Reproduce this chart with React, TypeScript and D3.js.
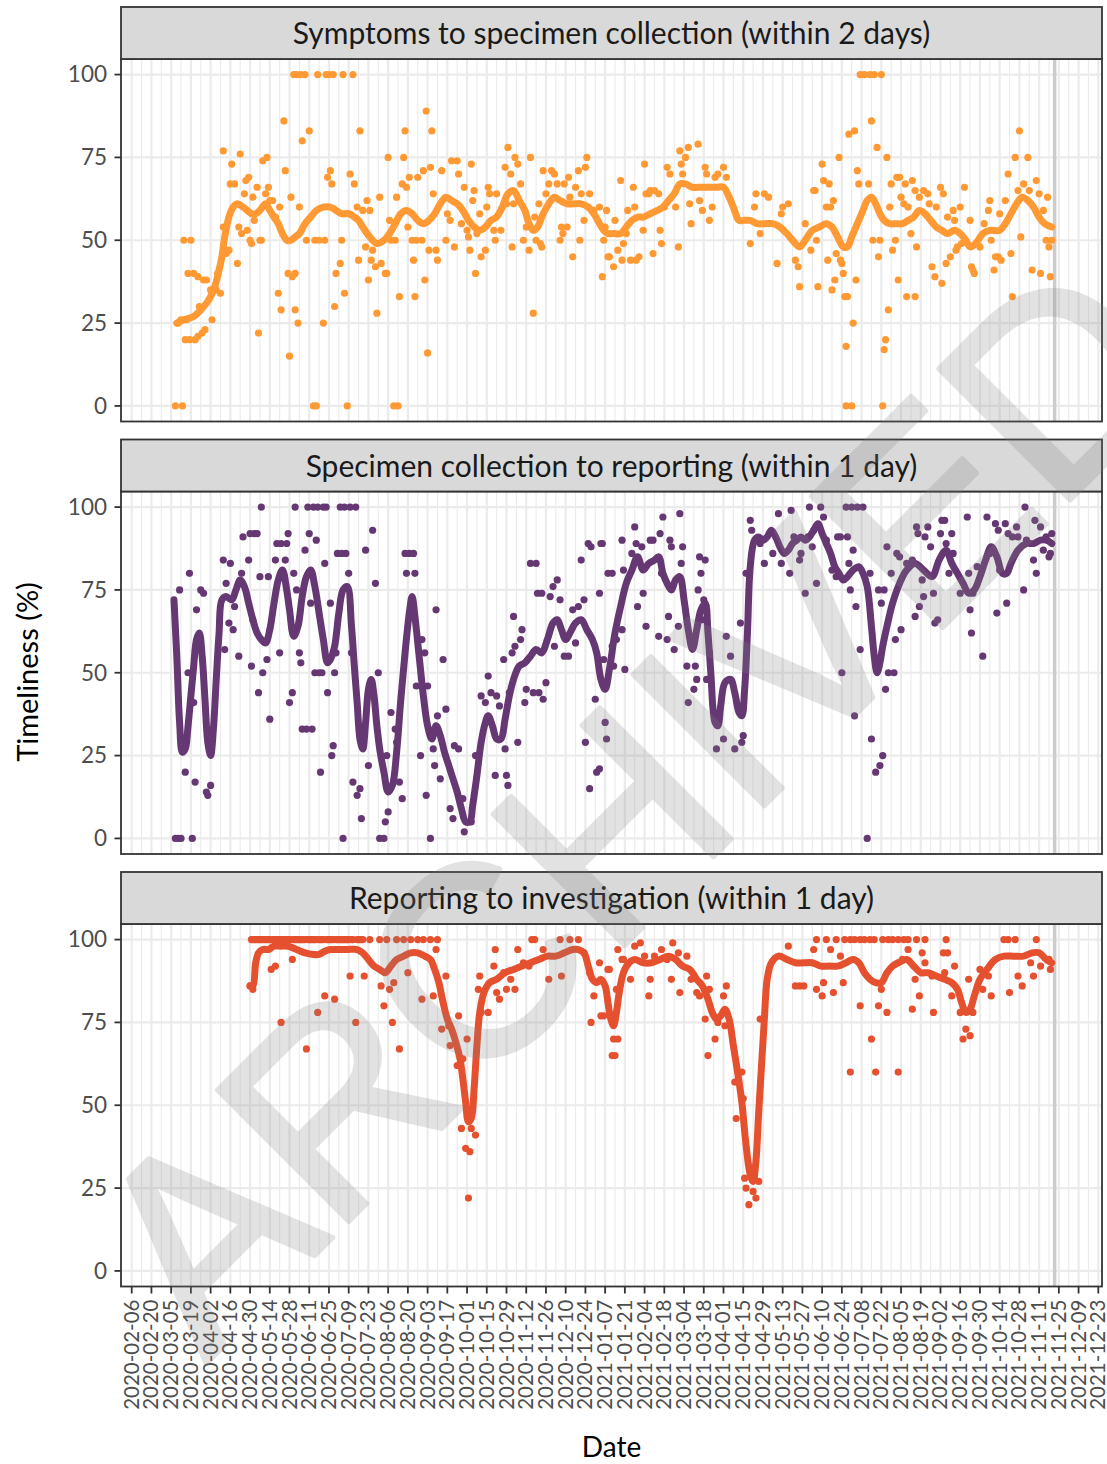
import React from "react";
import * as d3 from "d3";

// ---------- DATA ----------
const tickLabels = [
  "2020-02-06","2020-02-20","2020-03-05","2020-03-19","2020-04-02","2020-04-16","2020-04-30","2020-05-14","2020-05-28","2020-06-11",
  "2020-06-25","2020-07-09","2020-07-23","2020-08-06","2020-08-20","2020-09-03","2020-09-17","2020-10-01","2020-10-15","2020-10-29",
  "2020-11-12","2020-11-26","2020-12-10","2020-12-24","2021-01-07","2021-01-21","2021-02-04","2021-02-18","2021-03-04","2021-03-18",
  "2021-04-01","2021-04-15","2021-04-29","2021-05-13","2021-05-27","2021-06-10","2021-06-24","2021-07-08","2021-07-22","2021-08-05",
  "2021-08-19","2021-09-02","2021-09-16","2021-09-30","2021-10-14","2021-10-28","2021-11-11","2021-11-25","2021-12-09","2021-12-23"
];
const yTicks = [0, 25, 50, 75, 100];
const facetTitles = [
  "Symptoms to specimen collection (within 2 days)",
  "Specimen collection to reporting (within 1 day)",
  "Reporting to investigation (within 1 day)"
];
const startDate = "2020-03-06"; // day 0 of the series below
const cutoffDate = "2021-11-22";
const yTitle = "Timeliness (%)";
const xTitle = "Date";
const watermark = "ARCHIVED";

// [day offset from startDate, % value]
const symptomsLine: [number, number][] = [
  [3,25],[8,26],[15,27],[20,29],[24,31],[27,33],[30,36],[33,41],[35,45],[37,51],[40,57],[43,60],[46,61],[50,60],[53,59],[56,58],[59,58],[62,59],[66,61],[69,59],
  [72,57],[75,55],[78,52],[81,50],[84,50],[87,51],[90,52],[94,55],[98,57],[102,59],[107,60],[112,60],[116,59],[120,58],[125,58],[129,57],[132,56],[135,54],[140,51],[145,49],
  [150,50],[154,52],[158,55],[162,58],[166,59],[170,58],[174,56],[178,55],[182,56],[186,58],[190,61],[194,63],[198,62],[202,61],[206,59],[210,56],[214,54],[218,53],[222,54],[226,56],
  [230,57],[234,60],[238,64],[242,65],[246,62],[250,59],[253,55],[256,53],[259,54],[263,58],[267,61],[271,63],[275,62],[280,61],[285,61],[290,61],[295,60],[299,58],[303,55],[306,53],
  [309,52],[313,52],[318,52],[322,54],[326,56],[330,57],[334,57],[339,58],[344,59],[348,60],[352,62],[356,64],[360,67],[364,67],[369,66],[375,66],[381,66],[386,66],[391,66],[395,63],
  [398,60],[402,56],[406,56],[410,56],[415,55],[420,55],[426,55],[431,54],[436,52],[440,50],[445,48],[449,50],[454,53],[459,54],[464,55],[468,54],[472,51],[476,48],[479,48],[482,51],
  [486,55],[490,59],[493,62],[496,63],[499,61],[502,58],[505,56],[509,55],[513,55],[518,55],[522,56],[526,57],[530,59],[534,58],[538,56],[542,54],[546,53],[550,52],[555,53],[559,52],
  [563,50],[566,48],[570,49],[575,52],[580,53],[587,53],[591,55],[595,58],[599,61],[603,63],[607,62],[611,60],[615,57],[619,55],[624,54]
];
const symptomsPoints: [number, number][] = [
  [2,0],[7,0],[100,0],[102,0],[124,0],[157,0],[160,0],
  [86,100],[88,100],[91,100],[94,100],[103,100],[109,100],[111,100],[114,100],[121,100],[128,100],
  [8,50],[13,50],[11,40],[15,40],[18,39],[22,38],[24,38],[9,20],[12,20],[16,20],[18,21],[21,22],[23,23],[4,25],[6,26],[10,26],[19,30],[28,26],[27,35],[31,35],[34,34],[32,40],
  [36,54],[38,46],[40,47],[36,77],[42,73],[41,67],[44,67],[48,76],[46,43],[47,54],[49,52],[51,64],[52,68],[54,69],[53,53],[55,50],[56,49],[57,63],[58,56],[61,22],[60,66],[62,50],
  [63,50],[64,74],[67,75],[66,64],[68,66],[69,62],[71,62],[73,57],[75,34],[77,29],[76,60],[79,86],[80,71],[83,15],[82,40],[85,39],[87,40],[87,29],[89,25],[84,63],[90,60],[92,80],
  [95,50],[97,83],[101,50],[104,50],[108,50],[107,25],[110,69],[112,71],[113,67],[115,30],[116,40],[119,43],[120,50],[122,34],[126,70],[129,67],[131,60],[132,44],[133,83],[135,59],
  [137,48],[138,62],[140,59],[139,38],[141,44],[142,47],[144,42],[145,28],[147,63],[148,43],[151,40],[152,40],[153,75],[154,56],[155,50],[158,50],[159,63],[161,33],[163,67],[164,75],
  [166,66],[165,83],[167,54],[168,69],[170,50],[171,44],[173,50],[172,33],[174,69],[177,50],[178,71],[179,38],[180,89],[181,16],[182,47],[183,72],[185,64],[184,83],[187,47],[188,44],
  [191,71],[194,50],[195,58],[197,56],[198,74],[200,48],[202,74],[203,70],[205,55],[207,66],[209,53],[210,51],[211,47],[212,73],[213,62],[214,65],[215,40],[216,52],[218,58],[219,45],
  [222,47],[224,66],[223,60],[225,64],[228,53],[229,50],[230,64],[233,53],[236,72],[237,61],[238,78],[240,70],[241,48],[242,61],[243,75],[245,73],[247,67],[249,50],[251,54],[253,47],
  [254,75],[256,28],[257,57],[258,50],[260,61],[261,49],[262,48],[263,71],[265,64],[267,67],[269,71],[271,70],[273,67],[275,50],[276,54],[277,52],[278,67],[280,54],[281,69],[282,63],
  [284,45],[286,66],[288,71],[289,50],[290,64],[292,56],[293,72],[294,75],[296,64],[299,59],[305,39],[307,54],[309,45],[308,59],[303,60],[306,50],[310,45],[313,42],[314,56],[316,47],
  [318,68],[319,44],[320,49],[322,52],[323,59],[325,44],[327,66],[328,60],[329,44],[331,45],[334,53],[335,73],[336,64],[338,64],[339,65],[341,46],[342,65],[345,64],[346,53],[347,49],
  [349,60],[351,72],[353,70],[357,60],[359,48],[360,77],[361,73],[362,70],[364,75],[366,78],[368,55],[367,61],[373,79],[374,62],[376,59],[378,72],[379,70],[381,56],[383,60],[385,69],
  [387,70],[391,72],[393,69],[410,49],[413,60],[414,64],[417,52],[420,64],[423,63],[429,43],[432,58],[433,60],[437,61],[442,44],[444,42],[445,36],[449,55],[453,47],[455,65],[456,65],
  [457,50],[458,36],[461,73],[462,68],[464,60],[465,44],[466,67],[467,60],[469,62],[470,38],[468,35],[471,46],[473,75],[474,44],[475,43],[476,40],[477,33],[478,0],[479,33],[480,82],
  [478,18],[482,0],[483,25],[484,83],[486,71],[485,38],[487,67],[488,100],[491,100],[494,67],[495,100],[496,86],[497,50],[498,100],[500,78],[501,45],[502,50],[503,100],[504,0],[506,20],
  [505,17],[507,75],[508,29],[509,60],[510,67],[511,47],[513,50],[514,69],[515,38],[516,69],[517,63],[519,61],[520,67],[521,33],[522,60],[524,52],[525,68],[527,65],[528,48],[527,33],
  [530,63],[533,65],[536,64],[537,61],[539,42],[542,60],[541,39],[545,66],[546,37],[547,64],[549,43],[550,57],[552,45],[554,59],[555,56],[556,47],[557,48],[559,60],[560,49],[562,66],
  [566,56],[567,42],[568,41],[569,40],[573,48],[576,55],[579,59],[580,62],[581,50],[583,41],[584,45],[586,45],[587,58],[588,44],[591,62],[593,70],[595,46],[596,33],[598,75],[600,65],
  [601,83],[602,51],[604,67],[607,75],[608,65],[610,41],[613,68],[615,64],[616,40],[618,59],[620,50],[621,63],[622,48],[623,39],[624,50]
];

const reportingLine: [number, number][] = [
  [1,72],[3,55],[5,35],[7,26],[9,27],[11,34],[13,43],[15,52],[17,60],[19,62],[21,55],[23,42],[25,29],[27,25],[29,33],[31,48],[33,62],[35,72],[38,73],[42,72],
  [45,75],[48,78],[51,76],[54,71],[57,66],[60,62],[63,60],[66,59],[69,63],[72,71],[75,78],[78,81],[81,75],[83,69],[86,61],[89,64],[92,73],[95,79],[98,81],[101,76],
  [104,68],[107,60],[110,53],[112,54],[115,58],[118,68],[121,75],[124,76],[127,64],[129,52],[131,41],[133,30],[135,27],[137,35],[139,45],[141,48],[143,43],[145,34],[147,27],[150,20],
  [153,14],[156,16],[159,26],[162,42],[165,56],[168,68],[170,73],[172,67],[175,55],[178,43],[181,34],[184,30],[187,34],[190,31],[193,26],[196,22],[199,18],[202,14],[205,9],[208,5],
  [211,5],[213,10],[216,19],[219,29],[222,35],[224,37],[227,34],[230,30],[233,30],[236,36],[239,43],[242,48],[246,52],[250,53],[254,55],[258,57],[262,56],[266,60],[270,65],[273,66],
  [276,63],[279,60],[282,62],[286,65],[290,66],[294,63],[298,60],[301,56],[304,48],[307,45],[310,51],[314,62],[318,70],[322,77],[326,81],[330,85],[334,81],[338,83],[342,84],[345,85],
  [348,80],[351,77],[354,75],[357,78],[360,79],[363,72],[366,63],[369,57],[372,63],[375,69],[378,71],[380,62],[382,50],[385,35],[387,34],[389,40],[392,47],[396,48],[399,44],[402,38],
  [404,37],[406,45],[408,62],[410,82],[413,90],[416,91],[419,90],[422,91],[425,93],[428,91],[431,88],[434,86],[437,87],[440,89],[443,90],[446,91],[449,90],[452,91],[455,93],[458,95],
  [461,92],[464,89],[467,86],[470,82],[473,80],[476,78],[479,79],[483,81],[487,82],[490,80],[493,76],[496,64],[498,55],[500,50],[502,53],[504,58],[507,64],[511,71],[516,77],[521,81],
  [527,83],[533,81],[539,79],[544,84],[549,87],[553,83],[557,80],[561,77],[565,74],[569,75],[573,79],[577,84],[581,88],[585,85],[589,80],[592,80],[595,83],[600,87],[606,89],[611,89],
  [616,90],[620,90],[624,89]
];
const reportingPoints: [number, number][] = [
  [2,0],[4,0],[6,0],[14,0],[121,0],[147,0],[150,0],[183,0],
  [63,100],[87,100],[96,100],[100,100],[103,100],[107,100],[109,100],[119,100],[122,100],[126,100],[130,100],
  [5,75],[12,80],[17,69],[20,75],[22,74],[9,20],[16,17],[27,16],[25,13],[24,14],[15,41],[11,50],[36,84],[41,83],[38,77],[37,57],[40,65],[43,63],[44,70],[47,55],[49,80],
  [50,91],[54,84],[55,92],[58,92],[60,92],[57,66],[56,52],[61,44],[62,79],[64,50],[67,54],[68,79],[69,36],[73,84],[74,89],[76,56],[77,89],[80,84],[81,89],[82,92],
  [83,41],[85,44],[86,80],[88,75],[90,56],[91,53],[92,33],[95,33],[99,33],[94,87],[97,92],[102,90],[98,71],[101,50],[104,50],[106,50],[110,44],[105,20],[108,83],[112,71],
  [113,25],[114,28],[116,56],[115,50],[117,86],[120,86],[123,86],[125,80],[127,56],[128,17],[131,13],[133,15],[134,6],[137,87],[135,30],[139,22],[142,93],[144,77],[146,50],[151,5],
  [153,8],[152,25],[155,38],[158,33],[159,29],[161,17],[163,12],[165,86],[168,86],[171,86],[166,80],[172,80],[173,46],[177,60],[179,56],[176,25],[180,13],[181,46],[185,27],[187,69],
  [188,37],[186,22],[190,18],[192,54],[194,39],[197,9],[199,6],[200,28],[203,27],[206,12],[207,2],[212,5],[215,25],[219,43],[222,41],[224,49],[226,44],[229,19],[230,43],[232,40],
  [235,54],[236,27],[237,19],[238,16],[239,44],[241,56],[242,67],[243,58],[245,29],[247,60],[248,63],[250,41],[251,45],[254,83],[256,44],[258,83],[259,74],[260,44],[263,42],[262,74],
  [265,47],[268,73],[270,76],[273,78],[271,58],[275,72],[278,55],[281,55],[284,69],[286,59],[288,70],[290,84],[292,72],[295,89],[297,88],[293,29],[296,15],[300,42],[301,20],[303,74],
  [305,89],[307,35],[308,30],[309,80],[304,89],[306,54],[303,21],[312,80],[313,52],[315,60],[312,58],[319,90],[320,81],[321,51],[319,63],[328,94],[329,89],[330,70],[326,86],[333,88],
  [334,74],[336,64],[339,90],[341,90],[345,61],[347,80],[346,92],[348,97],[351,60],[352,67],[353,90],[354,88],[356,57],[359,64],[360,98],[361,83],[362,88],[365,52],[366,41],[371,52],
  [372,48],[370,45],[373,75],[374,85],[375,80],[378,84],[376,66],[377,72],[379,48],[381,56],[386,27],[391,30],[393,61],[396,55],[399,27],[403,65],[405,31],[404,29],[407,80],[410,96],
  [411,93],[417,89],[420,83],[426,86],[430,98],[432,83],[439,99],[438,80],[441,91],[445,84],[446,86],[449,74],[451,91],[452,100],[454,88],[457,77],[455,93],[460,100],[462,97],[464,90],
  [468,81],[471,79],[472,91],[474,91],[475,50],[478,100],[479,91],[480,83],[481,75],[482,100],[483,87],[484,37],[485,70],[486,100],[488,57],[490,100],[493,0],[495,80],[496,30],[499,20],
  [501,75],[503,71],[504,25],[502,22],[506,45],[505,75],[507,88],[508,50],[512,50],[510,80],[513,60],[514,86],[516,85],[517,63],[521,83],[525,84],[527,67],[528,94],[529,92],[530,70],
  [532,78],[533,73],[534,91],[536,94],[538,88],[540,74],[541,65],[543,66],[545,92],[546,96],[548,96],[549,89],[551,80],[553,92],[554,86],[559,74],[564,97],[565,80],[567,62],[566,69],
  [568,74],[571,82],[575,55],[578,97],[580,86],[584,95],[586,93],[585,68],[587,81],[591,95],[592,71],[593,92],[596,91],[599,94],[600,91],[604,75],[605,100],[606,90],[611,84],[613,80],
  [612,96],[616,94],[618,87],[620,91],[623,86],[624,92],[622,85]
];

const investigationLine: [number, number][] = [
  [55,86],[57,86],[59,93],[61,96],[64,97],[68,97],[72,98],[77,98],[82,98],[88,97],[94,96],[100,95.5],[104,95.5],[108,96.5],[112,97],[117,97],[124,97],[131,97],[135,96],[139,94],
  [143,92],[147,91],[151,90],[155,92],[159,94],[164,95],[169,96],[174,96],[179,95],[183,94],[186,91],[189,87],[192,81],[195,76],[198,73],[201,69],[204,64],[206,58],[208,51],[210,45],
  [212,46],[214,55],[216,68],[218,78],[221,84],[225,87],[230,88],[236,90],[242,91],[248,92],[254,93],[260,94],[266,95],[272,95],[278,96],[284,97],[288,97],[292,96],[295,92],[298,88],
  [301,87],[304,88],[307,86],[309,81],[311,76],[313,74],[315,78],[317,84],[320,90],[324,93],[328,94],[334,93],[340,93],[346,94],[352,95],[357,94],[362,92],[367,91],[372,88],[376,86],
  [380,82],[383,78],[386,76],[389,77],[392,79],[395,76],[398,68],[401,60],[404,51],[407,38],[410,29],[412,27],[414,33],[416,48],[418,62],[420,76],[422,88],[425,93],[430,95],[436,94],
  [442,93],[448,93],[454,93],[460,92],[466,92],[472,92],[478,93],[483,94],[487,93],[491,90],[495,88],[499,87],[503,87],[507,90],[511,92],[515,93],[521,94],[526,92],[531,90],[536,90],
  [542,89],[548,88],[553,87],[557,85],[560,81],[563,78],[566,79],[569,83],[573,88],[578,91],[584,94],[590,95],[597,95],[604,95],[610,96],[615,96],[620,94],[624,93]
];
const investigationFullDays = [
  56,57,58,59,60,61,62,63,64,65,66,67,68,69,71,72,74,75,76,78,79,80,81,82,83,84,86,87,88,89,90,91,92,93,94,96,97,98,99,100,
  101,102,104,105,106,107,109,110,111,112,113,114,116,117,118,119,120,121,122,123,124,125,127,128,131,132,133,134,135,140,
  147,152,159,164,169,174,178,183,188,255,257,275,282,288,457,464,471,477,481,484,488,491,495,498,504,508,511,515,519,522,
  528,534,549,590,593,598,613
];
const investigationPoints: [number, number][] = [
  [55,86],[57,85],[70,91],[73,92],[77,75],[85,94],[95,67],[103,78],[108,83],[115,82],[126,89],[130,75],[136,89],[148,86],[150,80],[154,85],[157,87],[156,75],[161,67],[167,90],
  [177,82],[185,83],[187,97],[194,89],[191,73],[197,68],[196,74],[203,77],[202,62],[209,70],[206,64],[205,43],[208,37],[211,36],[215,41],[210,22],[212,43],[218,89],[217,85],[219,78],
  [224,78],[228,92],[229,97],[230,84],[232,82],[235,90],[237,85],[240,88],[243,85],[245,97],[249,93],[253,92],[263,97],[267,88],[276,89],[292,96],[296,90],[299,83],[303,93],[304,77],
  [297,75],[309,91],[313,70],[312,65],[315,85],[319,94],[316,97],[306,77],[310,91],[314,65],[316,70],[325,88],[320,94],[328,98],[332,99],[335,95],[338,83],[339,88],[342,95],[347,97],
  [351,94],[354,88],[355,99],[360,84],[359,96],[365,95],[368,88],[372,84],[374,83],[379,89],[381,85],[378,76],[380,65],[385,70],[387,75],[391,83],[393,86],[392,74],[399,57],[404,60],
  [400,46],[405,52],[406,28],[409,20],[407,25],[412,24],[414,22],[416,27],[417,76],[437,98],[442,86],[445,86],[448,86],[455,97],[457,85],[461,83],[462,87],[467,97],[469,84],[474,95],
  [476,87],[481,60],[488,80],[496,70],[499,60],[501,80],[503,85],[507,78],[515,60],[518,94],[522,97],[525,79],[527,88],[530,83],[532,96],[534,93],[540,78],[539,89],[547,96],[548,90],
  [550,96],[553,83],[555,92],[559,78],[561,70],[563,73],[565,88],[566,71],[568,78],[573,91],[575,85],[579,89],[581,83],[594,84],[603,86],[600,89],[611,89],[609,93],[616,92],[623,91],
  [622,94]
];

// ---------- LAYOUT ----------
const W = 1107;
const H = 1464;
const panelLeft = 121;
const panelRight = 1102;
const firstTickX = 131.7;
const lastTickX = 1098.3;
const stripTops = [7, 439.5, 872];
const stripH = 52;
const panelH = 362.5;
const FONT = "Lato, 'Open Sans', sans-serif";
const colors = ["#FF9933", "#663873", "#E5502F"];

export default function App() {
  const parse = d3.utcParse("%Y-%m-%d");
  const start = parse(startDate) as Date;
  const tickDates = tickLabels.map((t) => parse(t) as Date);
  const x = d3
    .scaleUtc()
    .domain([tickDates[0], tickDates[tickDates.length - 1]])
    .range([firstTickX, lastTickX]);
  const dayX = (d: number) => x(d3.utcDay.offset(start, d));
  const minorDates = tickDates.slice(0, -1).map((t) => d3.utcDay.offset(t, 7));
  const cutX = x(parse(cutoffDate) as Date);

  const panels = [
    { title: facetTitles[0], color: colors[0], line: symptomsLine, points: symptomsPoints },
    { title: facetTitles[1], color: colors[1], line: reportingLine, points: reportingPoints },
    {
      title: facetTitles[2],
      color: colors[2],
      line: investigationLine,
      points: [...investigationFullDays.map((d) => [d, 100] as [number, number]), ...investigationPoints],
    },
  ];

  const bottomPanelY = stripTops[2] + stripH + panelH;

  return (
    <svg
      width={W}
      height={H}
      viewBox={`0 0 ${W} ${H}`}
      style={{ position: "absolute", left: 0, top: 0, background: "#fff" }}
      fontFamily={FONT}
    >
      <rect x={0} y={0} width={W} height={H} fill="#fff" />
      {panels.map((p, k) => {
        const sTop = stripTops[k];
        const pTop = sTop + stripH;
        const pBot = pTop + panelH;
        const y = d3.scaleLinear().domain([-4.7, 104.7]).range([pBot, pTop]);
        const lineGen = d3
          .line<[number, number]>()
          .x((d) => dayX(d[0]))
          .y((d) => y(d[1]))
          .curve(d3.curveCatmullRom.alpha(0.5));
        const clipId = `clip${k}`;
        return (
          <g key={k}>
            <defs>
              <clipPath id={clipId}>
                <rect x={panelLeft} y={pTop} width={panelRight - panelLeft} height={panelH} />
              </clipPath>
            </defs>
            <rect x={panelLeft} y={pTop} width={panelRight - panelLeft} height={panelH} fill="#fff" />
            <g clipPath={`url(#${clipId})`}>
              {minorDates.map((d, i) => (
                <line key={"mn" + i} x1={x(d)} x2={x(d)} y1={pTop} y2={pBot} stroke="#EBEBEB" strokeWidth={1.1} />
              ))}
              {tickDates.map((d, i) => (
                <line key={"mj" + i} x1={x(d)} x2={x(d)} y1={pTop} y2={pBot} stroke="#EBEBEB" strokeWidth={2.2} />
              ))}
              {yTicks.map((v) => (
                <line key={"h" + v} x1={panelLeft} x2={panelRight} y1={y(v)} y2={y(v)} stroke="#EBEBEB" strokeWidth={2.2} />
              ))}
              <line x1={cutX} x2={cutX} y1={pTop} y2={pBot} stroke="#CCCCCC" strokeWidth={3.5} />
              {p.points.map((d, i) => (
                <circle key={"p" + i} cx={dayX(d[0])} cy={y(d[1])} r={3.6} fill={p.color} />
              ))}
              <path
                d={lineGen(p.line) || ""}
                fill="none"
                stroke={p.color}
                strokeWidth={7}
                strokeLinejoin="round"
                strokeLinecap="round"
              />
            </g>
            <rect
              x={panelLeft}
              y={pTop}
              width={panelRight - panelLeft}
              height={panelH}
              fill="none"
              stroke="#333333"
              strokeWidth={1.8}
            />
            {/* strip */}
            <rect
              x={panelLeft}
              y={sTop}
              width={panelRight - panelLeft}
              height={stripH}
              fill="#D9D9D9"
              stroke="#333333"
              strokeWidth={1.8}
            />
            <text
              x={(panelLeft + panelRight) / 2}
              y={sTop + 37}
              textAnchor="middle"
              fontSize={30}
              fill="#1A1A1A"
            >
              {p.title}
            </text>
            {/* y axis */}
            {yTicks.map((v) => (
              <g key={"yt" + v}>
                <line x1={panelLeft - 6.5} x2={panelLeft} y1={y(v)} y2={y(v)} stroke="#333333" strokeWidth={1.8} />
                <text x={107} y={y(v) + 7.8} textAnchor="end" fontSize={22.5} fill="#4D4D4D">
                  {v}
                </text>
              </g>
            ))}
          </g>
        );
      })}
      {/* x axis */}
      {tickDates.map((d, i) => (
        <g key={"xt" + i}>
          <line x1={x(d)} x2={x(d)} y1={bottomPanelY} y2={bottomPanelY + 7} stroke="#333333" strokeWidth={1.8} />
          <text
            transform={`translate(${x(d) + 7},${bottomPanelY + 13}) rotate(-90)`}
            textAnchor="end"
            fontSize={20.5}
            fill="#4D4D4D"
          >
            {tickLabels[i]}
          </text>
        </g>
      ))}
      <text x={(panelLeft + panelRight) / 2} y={1457} textAnchor="middle" fontSize={28} fill="#000">
        {xTitle}
      </text>
      <text transform={`translate(38,672) rotate(-90)`} textAnchor="middle" fontSize={29} fill="#000">
        {yTitle}
      </text>
      {/* watermark */}
      <g opacity={0.22} pointerEvents="none">
        <text
          transform={`translate(633,805) rotate(-45)`}
          textAnchor="middle"
          dominantBaseline="central"
          fontFamily="'Liberation Sans', Arial, sans-serif"
          fontSize={270}
          fill="#808080"
          stroke="#808080"
          strokeWidth={5}
          strokeLinejoin="round"
        >
          {watermark}
        </text>
      </g>
    </svg>
  );
}
